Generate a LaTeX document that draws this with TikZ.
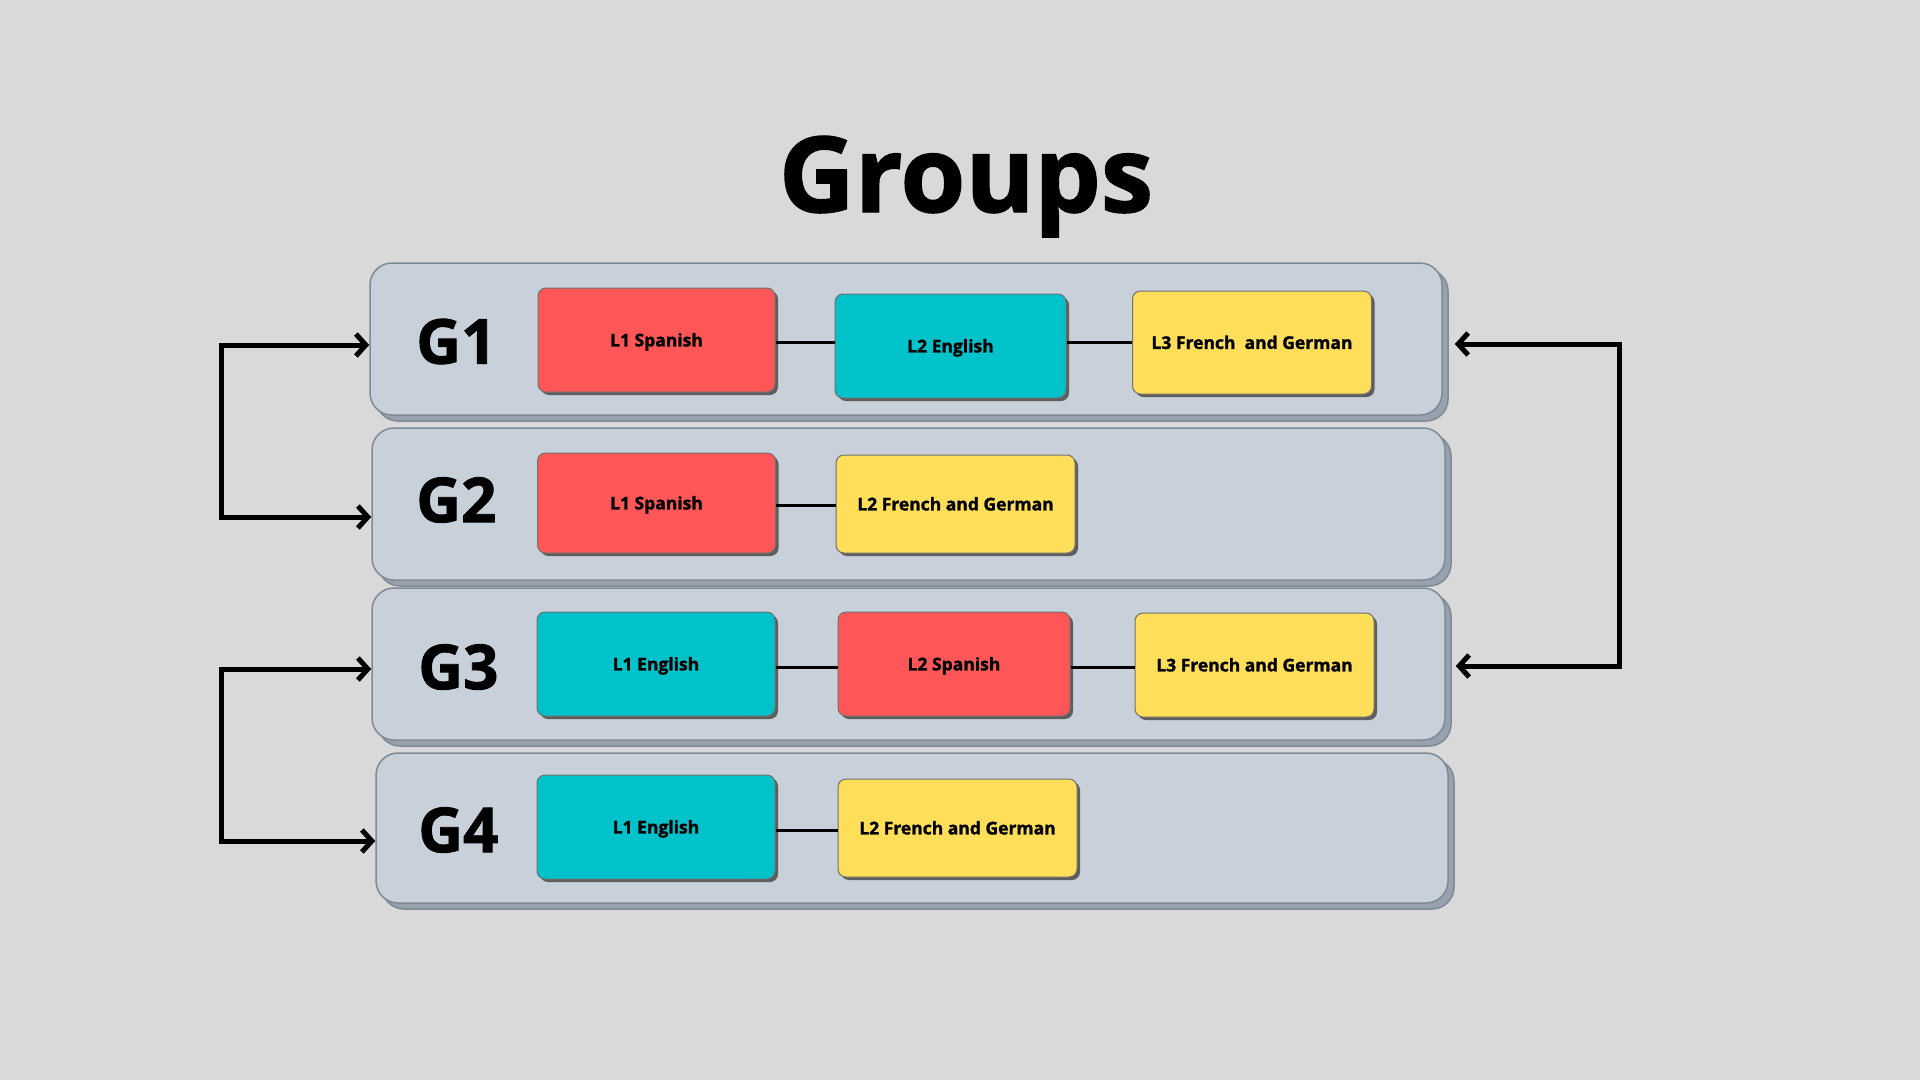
\documentclass[tikz,border=0pt]{standalone}
\usepackage{fontspec}
\setmainfont{Open Sans}
\newfontfamily\heavy{Open Sans}[BoldFeatures={FakeBold=1.4}]
\usetikzlibrary{shadows,arrows.meta}
\definecolor{bg}{HTML}{D9D9D9}
\definecolor{grpfill}{HTML}{C8D0D9}
\definecolor{grpdraw}{HTML}{7F8A96}
\definecolor{grpshadow}{HTML}{97A2AE}
\definecolor{cred}{HTML}{FF5757}
\definecolor{ccyan}{HTML}{00C2CB}
\definecolor{cyel}{HTML}{FFDE59}
\definecolor{boxdraw}{HTML}{707070}
\definecolor{boxshadow}{HTML}{5E5E5E}
\begin{document}
\begin{tikzpicture}[x=1pt,y=-1pt,
  grp/.style={draw=grpdraw, line width=1.5pt, fill=grpfill, rounded corners=22pt,
    inner sep=0pt, minimum height=152pt,
    general shadow={fill=grpshadow, draw=grpdraw, line width=1.5pt, shadow xshift=6pt, shadow yshift=-6pt}},
  lang/.style={draw=boxdraw, line width=1pt, rounded corners=8pt, inner sep=0pt,
    minimum height=104pt, minimum width=238pt, text height=12.8pt, text depth=0pt,
    font=\fontsize{17.5}{20}\selectfont\heavy\bfseries,
    general shadow={fill=boxshadow, shadow xshift=3pt, shadow yshift=-3pt}},
  glabel/.style={anchor=west, inner sep=0pt, font=\fontsize{62}{62}\selectfont\heavy\bfseries},
  link/.style={line width=3pt, black},
  arr/.style={line width=5pt, black, {Straight Barb[length=10pt,width=22pt]}-{Straight Barb[length=10pt,width=22pt]}}
]
\fill[bg] (0,0) rectangle (1920,1080);
\useasboundingbox (0,0) rectangle (1920,1080);

\node[inner sep=0pt, anchor=base, font=\fontsize{105}{105}\selectfont\heavy\bfseries] (title) at (966,212) {Groups};

% group boxes
\node[grp, minimum width=1072pt] (g1) at (906,339) {};
\node[grp, minimum width=1073pt] (g2) at (908.5,504) {};
\node[grp, minimum width=1073pt] (g3) at (908.5,664) {};
\node[grp, minimum width=1072pt, minimum height=150pt] (g4) at (912,828) {};

% group labels
\node[glabel] (g1l) at (416,341.5) {G1};
\node[glabel] (g2l) at (416,500) {G2};
\node[glabel] (g3l) at (418,667) {G3};
\node[glabel] (g4l) at (418,830) {G4};

% G1
\node[lang, fill=cred, minimum width=237pt] (a1) at (656.5,340) {L1 Spanish};
\node[lang, fill=ccyan, minimum width=231pt] (a2) at (950.5,346) {L2 English};
\node[lang, fill=cyel, minimum width=239pt, minimum height=103pt] (a3) at (1252,342.5) {L3 French\ \ and German};
% G2
\node[lang, fill=cred, minimum height=100pt] (b1) at (656.5,503) {L1 Spanish};
\node[lang, fill=cyel, minimum width=239pt, minimum height=98pt] (b2) at (955.5,504) {L2 French and German};
% G3
\node[lang, fill=ccyan] (c1) at (656,664) {L1 English};
\node[lang, fill=cred, minimum width=232pt] (c2) at (954,664) {L2 Spanish};
\node[lang, fill=cyel, minimum width=239pt] (c3) at (1254.5,665) {L3 French and German};
% G4
\node[lang, fill=ccyan] (d1) at (656,827) {L1 English};
\node[lang, fill=cyel, minimum width=239pt, minimum height=98pt] (d2) at (957.5,828) {L2 French and German};

% links
\draw[link] ([yshift=-2pt]a1.east) -- ([yshift=-2pt]a1.east -| a2.west);
\draw[link] ([yshift=-2pt]a1.east -| a2.east) -- ([yshift=-2pt]a1.east -| a3.west);
\draw[link] ([yshift=-2pt]b1.east) -- ([yshift=-2pt]b1.east -| b2.west);
\draw[link] ([yshift=-3pt]c1.east) -- ([yshift=-3pt]c1.east -| c2.west);
\draw[link] ([yshift=-3pt]c2.east) -- ([yshift=-3pt]c2.east -| c3.west);
\draw[link] ([yshift=-3pt]d1.east) -- ([yshift=-3pt]d1.east -| d2.west);

% arrows
\draw[arr] ([yshift=-6pt]g1.west) -- ++(-148,0) |- ([yshift=-13pt]g2.west);
\draw[arr] ([yshift=-5pt]g3.west) -- ++(-150,0) |- ([yshift=-13pt]g4.west);
\draw[arr] ([xshift=12pt,yshift=-5pt]g1.east) -- ++(165,0) |- ([xshift=10pt,yshift=-2pt]g3.east);
\end{tikzpicture}
\end{document}
